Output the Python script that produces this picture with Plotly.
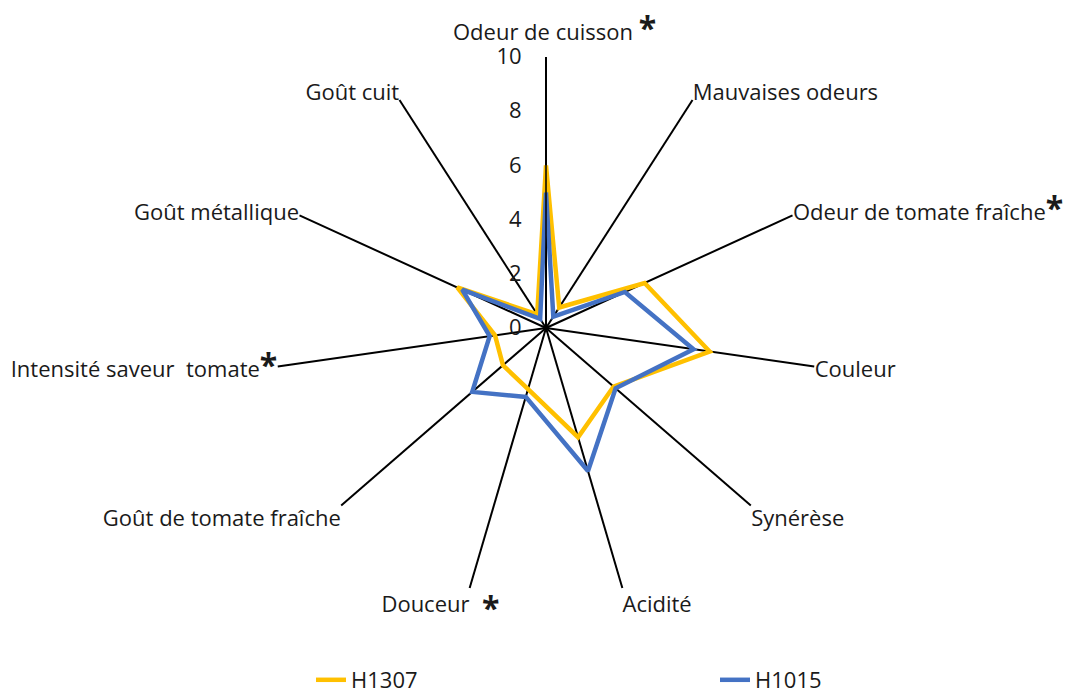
import plotly.graph_objects as go

# Sensory attributes, clockwise from the top
attributes = [
    "Odeur de cuisson",
    "Mauvaises odeurs",
    "Odeur de tomate fraîche",
    "Couleur",
    "Synérèse",
    "Acidité",
    "Douceur",
    "Goût de tomate fraîche",
    "Intensité saveur  tomate",
    "Goût métallique",
    "Goût cuit",
]

# Displayed labels (asterisk = significant difference); the top label is drawn
# separately so it can sit above the radial scale.
STAR = "<span style='font-size:32px'><b>*</b></span>"
attribute_labels = [
    "",
    "Mauvaises odeurs",
    "Odeur de tomate fraîche" + STAR,
    "Couleur",
    "Synérèse",
    "Acidité",
    "Douceur",
    "Goût de tomate fraîche",
    "Intensité saveur  tomate" + STAR,
    "Goût métallique",
    "Goût cuit",
]

h1307 = [6.0, 0.9, 4.0, 6.1, 3.3, 4.2, 2.35, 2.1, 1.9, 3.6, 0.6]
h1015 = [5.0, 0.5, 3.2, 5.5, 3.4, 5.5, 2.65, 3.6, 2.1, 3.4, 0.4]

radial_ticks = [0, 2, 4, 6, 8, 10]

FONT = "Open Sans, Noto Sans, sans-serif"
TEXT = "#1a1a1a"
FS = 22


def closed(values):
    return values + values[:1]


fig = go.Figure()
fig.add_trace(go.Scatterpolar(
    r=closed(h1307), theta=closed(attributes), mode="lines", name="H1307",
    line=dict(color="#FFC000", width=4.5), cliponaxis=False,
))
fig.add_trace(go.Scatterpolar(
    r=closed(h1015), theta=closed(attributes), mode="lines", name="H1015",
    line=dict(color="#4472C4", width=4.5), cliponaxis=False,
))

W, H = 1078, 694
cx, cy, rad = 546, 328, 271


def px_x(x):
    return x / W


def px_y(y):
    return (H - y) / H


fig.update_layout(
    width=W, height=H,
    margin=dict(l=0, r=0, t=0, b=0, autoexpand=False),
    paper_bgcolor="white", plot_bgcolor="white",
    font=dict(family=FONT, size=FS, color=TEXT),
    polar=dict(
        domain=dict(x=[px_x(cx - rad), px_x(cx + rad)],
                    y=[px_y(cy + rad), px_y(cy - rad)]),
        bgcolor="white",
        angularaxis=dict(
            type="category", categoryarray=attributes,
            rotation=90, direction="clockwise",
            tickmode="array", tickvals=attributes, ticktext=attribute_labels,
            showline=False, ticks="",
            showgrid=True, gridcolor="black", gridwidth=1.5,
            tickfont=dict(family=FONT, size=FS, color=TEXT),
        ),
        radialaxis=dict(
            range=[0, 10], angle=90, tickangle=90,
            tickmode="array", tickvals=radial_ticks,
            showgrid=False, showline=True, linecolor="black", linewidth=1.5,
            ticks="outside", ticklen=16, tickcolor="rgba(0,0,0,0)",
            side="counterclockwise",
            tickfont=dict(family=FONT, size=FS, color=TEXT),
        ),
    ),
    annotations=[
        dict(text="Odeur de cuisson " + STAR, x=px_x(cx + 8), y=px_y(cy - rad - 30),
             xref="paper", yref="paper", xanchor="center", yanchor="middle",
             showarrow=False, font=dict(family=FONT, size=FS, color=TEXT)),
        dict(text="<b>*</b>", x=px_x(490), y=px_y(607),
             xref="paper", yref="paper", xanchor="center", yanchor="middle",
             showarrow=False, font=dict(family=FONT, size=32, color=TEXT)),
    ],
    showlegend=True,
    legend=dict(
        orientation="h", x=px_x(311), xanchor="left", y=px_y(680), yanchor="middle",
        entrywidth=359, entrywidthmode="pixels",
        font=dict(family=FONT, size=FS, color=TEXT),
        bgcolor="rgba(0,0,0,0)",
    ),
)

fig.write_html("out.html")
